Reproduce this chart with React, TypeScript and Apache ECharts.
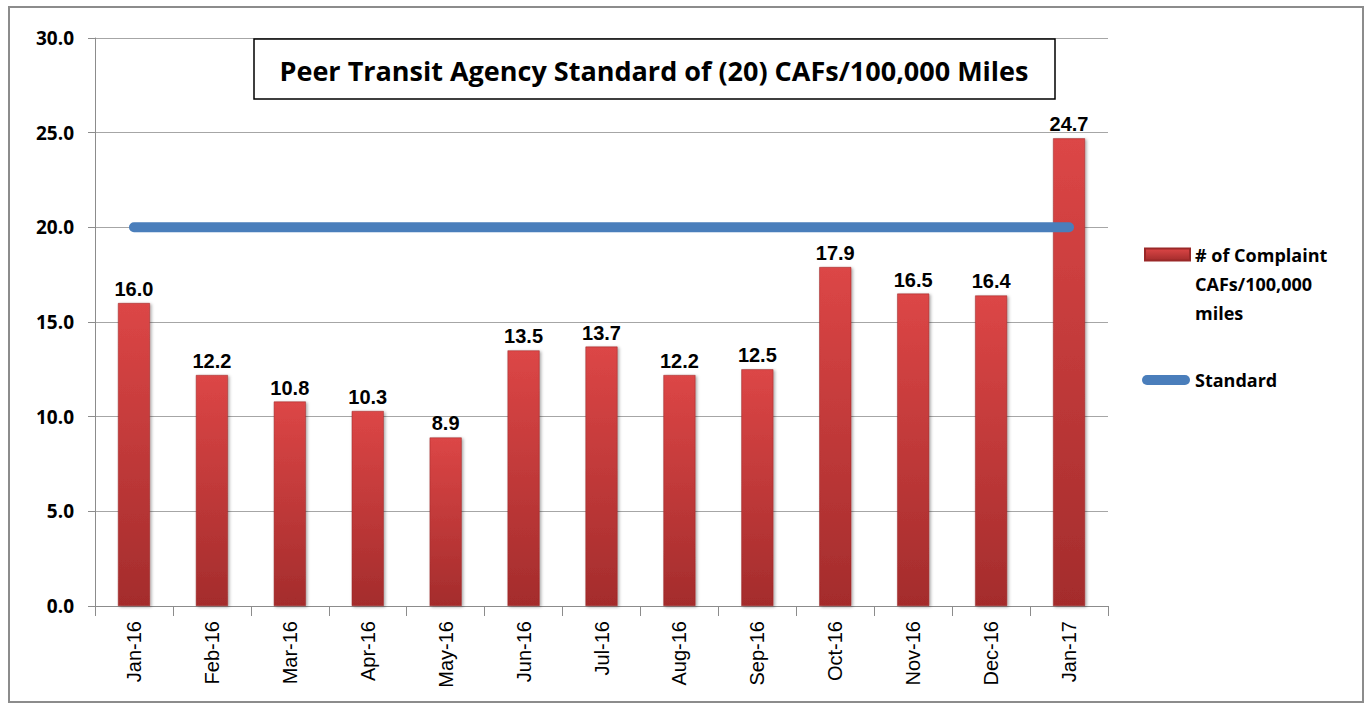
import React, { useEffect, useRef } from "react";
import * as echarts from "echarts";

const categories = ["Jan-16", "Feb-16", "Mar-16", "Apr-16", "May-16", "Jun-16", "Jul-16", "Aug-16", "Sep-16", "Oct-16", "Nov-16", "Dec-16", "Jan-17"];
const complaintValues = [16.0, 12.2, 10.8, 10.3, 8.9, 13.5, 13.7, 12.2, 12.5, 17.9, 16.5, 16.4, 24.7];
const standardValues = [20, 20, 20, 20, 20, 20, 20, 20, 20, 20, 20, 20, 20];
const yTicks = { min: 0, max: 30, interval: 5 };
const titleText = "Peer Transit Agency Standard of (20) CAFs/100,000 Miles";
const barName = "# of Complaint CAFs/100,000 miles";
const lineName = "Standard";

const boldSans = "'Open Sans', 'Noto Sans', sans-serif";
const arial = "'Liberation Sans', Arial, sans-serif";

export default function App() {
  const ref = useRef<HTMLDivElement>(null);
  useEffect(() => {
    if (!ref.current) return;
    const chart = echarts.init(ref.current, null, { renderer: "svg" });
    chart.setOption({
      animation: false,
      backgroundColor: "#ffffff",
      grid: { left: 95, right: 264, top: 38, bottom: 97 },
      graphic: [
        { type: "rect", shape: { x: 9, y: 7, width: 1354, height: 695 }, style: { fill: "none", stroke: "#8c8c8c", lineWidth: 2 }, z: 0 },
        { type: "rect", shape: { x: 254, y: 39, width: 801, height: 60 }, style: { fill: "#fff", stroke: "#000", lineWidth: 1.5 }, z: 10 },
        { type: "text", x: 654, y: 70, style: { text: titleText, fill: "#000", font: `bold 27px ${boldSans}`, align: "center", verticalAlign: "middle" }, z: 11 },
      ],
      legend: [
        {
          data: [barName],
          orient: "vertical",
          left: 1139,
          top: 177,
          icon: "rect",
          itemWidth: 45,
          itemHeight: 12,
          itemGap: 4,
          formatter: () => " \n \n# of Complaint\nCAFs/100,000\nmiles",
          textStyle: { fontFamily: boldSans, fontWeight: "bold", fontSize: 18, color: "#000", lineHeight: 29 },
        },
        {
          data: [{ name: lineName, icon: "path://M5,0 H43 A5,5 0 0 1 43,10 H5 A5,5 0 0 1 5,0 Z" }],
          orient: "vertical",
          left: 1137,
          top: 366,
          itemWidth: 48,
          itemHeight: 10,
          textStyle: { fontFamily: boldSans, fontWeight: "bold", fontSize: 18, color: "#000" },
        },
      ],
      xAxis: {
        type: "category",
        data: categories,
        axisLine: { show: true, lineStyle: { color: "#8c8c8c", width: 1 } },
        axisTick: { show: true, length: 10, lineStyle: { color: "#8c8c8c" } },
        axisLabel: { rotate: 90, fontFamily: arial, fontSize: 20, color: "#000", margin: 15 },
      },
      yAxis: {
        type: "value",
        min: yTicks.min,
        max: yTicks.max,
        interval: yTicks.interval,
        axisLine: { show: true, lineStyle: { color: "#8c8c8c", width: 1 } },
        axisTick: { show: true, length: 7, lineStyle: { color: "#8c8c8c" } },
        splitLine: { show: true, lineStyle: { color: "#a6a6a6", width: 1 } },
        axisLabel: { formatter: (v: number) => v.toFixed(1), fontFamily: boldSans, fontWeight: "bold", fontSize: 19, color: "#000", margin: 21 },
      },
      series: [
        {
          name: barName,
          type: "bar",
          data: complaintValues,
          barWidth: 32,
          itemStyle: {
            color: new echarts.graphic.LinearGradient(0, 0, 0, 1, [
              { offset: 0, color: "#dc4646" },
              { offset: 1, color: "#a42c2c" },
            ]),
            borderColor: "#9a2828",
            borderWidth: 0.5,
            shadowBlur: 3,
            shadowColor: "rgba(0,0,0,0.35)",
            shadowOffsetX: 1.5,
            shadowOffsetY: 1,
          },
          label: {
            show: true,
            position: "top",
            distance: 4,
            formatter: (p: any) => Number(p.value).toFixed(1),
            fontFamily: arial,
            fontWeight: "bold",
            fontSize: 20,
            color: "#000",
          },
          z: 2,
        },
        {
          name: lineName,
          type: "line",
          data: standardValues,
          symbol: "none",
          lineStyle: { color: "#4a7ebb", width: 10, cap: "round" },
          itemStyle: { color: "#4a7ebb" },
          z: 3,
        },
      ],
    });
    return () => chart.dispose();
  }, []);
  return <div ref={ref} style={{ position: "absolute", left: 0, top: 0, width: 1372, height: 703 }} />;
}
